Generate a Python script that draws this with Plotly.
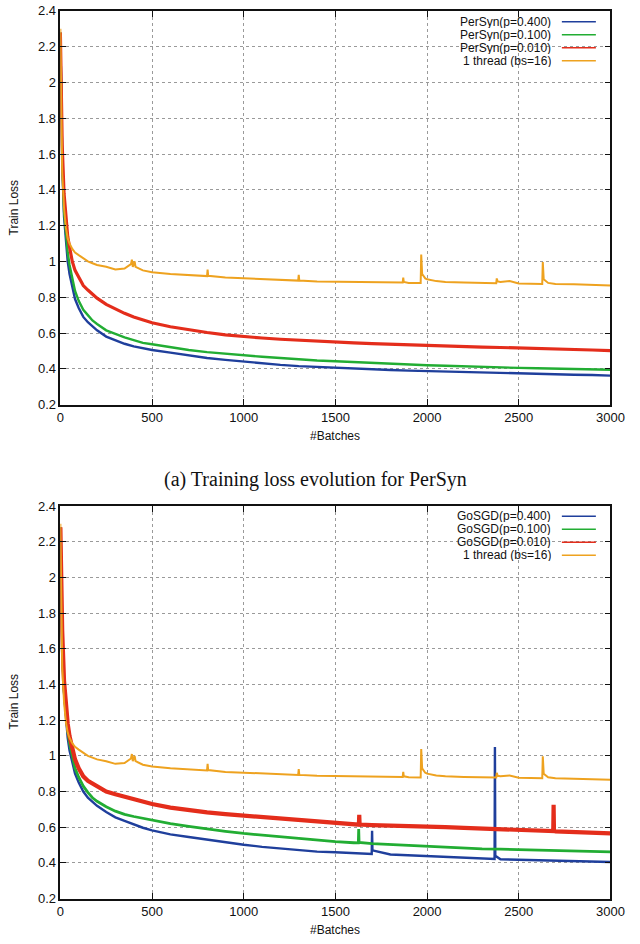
import plotly.graph_objects as go

# ---------------- data ----------------
x_base = [0, 5, 10, 20, 30, 40, 50, 65, 80, 100, 125, 150, 175, 200, 250, 300, 350, 400, 450, 500,
          600, 700, 800, 900, 1000, 1100, 1200, 1300, 1400, 1500, 1600, 1700, 1800, 1900, 2000,
          2100, 2200, 2300, 2400, 2500, 2600, 2700, 2800, 2900, 3000]

persyn_p400 = [2.28, 1.80, 1.55, 1.25, 1.10, 1.00, 0.93, 0.85, 0.79, 0.74, 0.69, 0.66, 0.635, 0.615, 0.58, 0.56,
               0.54, 0.525, 0.515, 0.505, 0.49, 0.475, 0.46, 0.45, 0.44, 0.43, 0.422, 0.415, 0.41, 0.405, 0.40,
               0.397, 0.393, 0.39, 0.387, 0.384, 0.381, 0.378, 0.375, 0.373, 0.371, 0.369, 0.367, 0.365, 0.362]
persyn_p100 = [2.28, 1.80, 1.56, 1.28, 1.15, 1.05, 0.98, 0.90, 0.835, 0.78, 0.73, 0.70, 0.67, 0.65, 0.615, 0.595,
               0.575, 0.56, 0.545, 0.537, 0.52, 0.505, 0.493, 0.483, 0.475, 0.467, 0.46, 0.452, 0.446, 0.442, 0.437,
               0.432, 0.428, 0.424, 0.42, 0.417, 0.413, 0.41, 0.407, 0.405, 0.403, 0.401, 0.399, 0.397, 0.395]
persyn_p010 = [2.28, 1.90, 1.65, 1.38, 1.24, 1.14, 1.08, 1.00, 0.95, 0.91, 0.865, 0.84, 0.815, 0.795, 0.76, 0.735,
               0.71, 0.69, 0.672, 0.657, 0.635, 0.617, 0.603, 0.59, 0.58, 0.572, 0.565, 0.559, 0.554, 0.55, 0.545,
               0.541, 0.537, 0.534, 0.53, 0.527, 0.524, 0.521, 0.519, 0.517, 0.514, 0.511, 0.508, 0.505, 0.502]

thread_x = [0, 5, 10, 20, 30, 40, 50, 65, 80, 100, 125, 150, 175, 200, 250, 300, 350, 385, 390, 395, 405, 410,
            450, 500, 600, 700, 800, 803, 806, 900, 1000, 1100, 1200, 1297, 1300, 1303, 1400, 1500, 1600, 1700,
            1800, 1867, 1870, 1873, 1900, 1965, 1968, 1973, 1990, 2000, 2050, 2100, 2200, 2300, 2377, 2380,
            2385, 2400, 2450, 2500, 2600, 2628, 2631, 2636, 2660, 2700, 2800, 2900, 3000]
thread_bs16 = [2.30, 1.70, 1.50, 1.30, 1.19, 1.13, 1.10, 1.07, 1.05, 1.035, 1.015, 1.00, 0.99, 0.98, 0.97, 0.955,
               0.96, 0.985, 1.01, 0.97, 1.00, 0.97, 0.95, 0.94, 0.93, 0.922, 0.918, 0.955, 0.92, 0.91, 0.905,
               0.90, 0.897, 0.893, 0.925, 0.893, 0.888, 0.886, 0.884, 0.882, 0.881, 0.882, 0.91, 0.885, 0.88,
               0.879, 1.038, 0.93, 0.905, 0.90, 0.89, 0.885, 0.882, 0.879, 0.878, 0.905, 0.888, 0.885, 0.89,
               0.877, 0.875, 0.874, 0.997, 0.90, 0.88, 0.874, 0.872, 0.869, 0.866]

gosgd_p400_x = [0, 5, 10, 20, 30, 40, 50, 65, 80, 100, 125, 150, 175, 200, 250, 300, 350, 400, 450, 500, 600, 700,
                800, 900, 1000, 1100, 1200, 1300, 1400, 1500, 1600, 1698, 1700, 1702, 1800, 1900, 2000, 2100,
                2200, 2300, 2368, 2370, 2372, 2400, 2500, 2600, 2700, 2800, 2900, 3000]
gosgd_p400 = [2.28, 1.85, 1.60, 1.35, 1.20, 1.10, 1.03, 0.97, 0.90, 0.85, 0.80, 0.765, 0.74, 0.72, 0.685, 0.655,
              0.635, 0.615, 0.597, 0.582, 0.56, 0.545, 0.53, 0.515, 0.502, 0.49, 0.48, 0.47, 0.463, 0.46, 0.455,
              0.45, 0.58, 0.47, 0.447, 0.442, 0.438, 0.434, 0.43, 0.425, 0.422, 1.05, 0.44, 0.42, 0.417, 0.414,
              0.412, 0.41, 0.408, 0.405]

gosgd_p100_x = [0, 5, 10, 20, 30, 40, 50, 65, 80, 100, 125, 150, 175, 200, 250, 300, 350, 400, 450, 500, 600, 700,
                800, 900, 1000, 1100, 1200, 1300, 1400, 1500, 1600, 1625, 1627, 1629, 1700, 1800, 1900, 2000,
                2100, 2200, 2300, 2400, 2500, 2600, 2700, 2800, 2900, 3000]
gosgd_p100 = [2.28, 1.85, 1.60, 1.37, 1.23, 1.14, 1.07, 1.00, 0.93, 0.88, 0.83, 0.795, 0.765, 0.745, 0.715, 0.69,
              0.672, 0.66, 0.65, 0.64, 0.62, 0.605, 0.59, 0.577, 0.565, 0.555, 0.545, 0.535, 0.527, 0.519, 0.513,
              0.512, 0.59, 0.515, 0.508, 0.503, 0.496, 0.49, 0.486, 0.482, 0.479, 0.477, 0.474, 0.471, 0.468,
              0.466, 0.464, 0.462]

gosgd_p010_x = [0, 5, 10, 20, 30, 40, 50, 65, 80, 100, 125, 150, 175, 200, 250, 300, 350, 400, 450, 500, 600, 700,
                800, 900, 1000, 1100, 1200, 1300, 1400, 1500, 1600, 1628, 1630, 1632, 1700, 1800, 1900,
                2000, 2100, 2200, 2300, 2400, 2500, 2600, 2688, 2690, 2692, 2700, 2800, 2900, 3000]
gosgd_p010 = [2.28, 1.90, 1.70, 1.42, 1.28, 1.18, 1.11, 1.04, 0.98, 0.93, 0.885, 0.86, 0.845, 0.83, 0.80, 0.785,
              0.77, 0.755, 0.74, 0.73, 0.71, 0.695, 0.683, 0.673, 0.665, 0.655, 0.645, 0.637, 0.63, 0.62,
              0.615, 0.614, 0.67, 0.615, 0.612, 0.61, 0.607, 0.604, 0.60, 0.596, 0.592, 0.589, 0.585, 0.582,
              0.578, 0.725, 0.58, 0.577, 0.574, 0.57, 0.566]

legend_top = ["PerSyn(p=0.400)", "PerSyn(p=0.100)", "PerSyn(p=0.010)", "1 thread (bs=16)"]
legend_bottom = ["GoSGD(p=0.400)", "GoSGD(p=0.100)", "GoSGD(p=0.010)", "1 thread (bs=16)"]
y_ticks = [0.2, 0.4, 0.6, 0.8, 1.0, 1.2, 1.4, 1.6, 1.8, 2.0, 2.2, 2.4]
y_tick_text = ["0.2", "0.4", "0.6", "0.8", "1", "1.2", "1.4", "1.6", "1.8", "2", "2.2", "2.4"]
x_ticks = [0, 500, 1000, 1500, 2000, 2500, 3000]

# ---------------- style ----------------
BLUE = "#1f3f9c"
GREEN = "#22ad33"
RED = "#e42d1b"
ORANGE = "#eea21f"
colors = [BLUE, GREEN, RED, ORANGE]

W, H = 640, 944
def px_x(p):
    return p / W
def px_y(p):
    return 1 - p / H

fig = go.Figure()

top_series = [(x_base, persyn_p400, 2.4), (x_base, persyn_p100, 2.4), (x_base, persyn_p010, 3.2),
              (thread_x, thread_bs16, 2.0)]
bot_series = [(gosgd_p400_x, gosgd_p400, 2.4), (gosgd_p100_x, gosgd_p100, 2.8), (gosgd_p010_x, gosgd_p010, 4.2),
              (thread_x, thread_bs16, 2.0)]

for (xs, ys, w), c, name in zip(top_series, colors, legend_top):
    fig.add_trace(go.Scatter(x=xs, y=ys, mode="lines", name=name, line=dict(color=c, width=w),
                             xaxis="x", yaxis="y", showlegend=False))
for (xs, ys, w), c, name in zip(bot_series, colors, legend_bottom):
    fig.add_trace(go.Scatter(x=xs, y=ys, mode="lines", name=name, line=dict(color=c, width=w),
                             xaxis="x2", yaxis="y2", showlegend=False))

x_dom = [px_x(58), px_x(624)]
top_dom = [px_y(404), px_y(4)]
bot_dom = [px_y(906), px_y(507)]

tick_font = dict(family="Liberation Sans, Arial, sans-serif", size=13, color="#111")
common_x = dict(range=[0, 3000], tickvals=x_ticks, showgrid=True, gridcolor="#9a9a9a", griddash="dot",
                gridwidth=1, showline=True, linecolor="#111", linewidth=1.5, mirror="ticks",
                ticks="inside", ticklen=6, tickcolor="#111", tickfont=tick_font, zeroline=False,
                domain=x_dom)
common_y = dict(range=[0.2, 2.4], tickvals=y_ticks, ticktext=y_tick_text, showgrid=True, gridcolor="#9a9a9a",
                griddash="dot", gridwidth=1, showline=True, linecolor="#111", linewidth=1.5, mirror="ticks",
                ticks="inside", ticklen=6, tickcolor="#111", tickfont=tick_font, zeroline=False)

fig.update_layout(
    width=W, height=H, margin=dict(l=0, r=0, t=0, b=0),
    paper_bgcolor="white", plot_bgcolor="white",
    xaxis=dict(**common_x, anchor="y"),
    yaxis=dict(**common_y, domain=top_dom, anchor="x"),
    xaxis2=dict(**common_x, anchor="y2"),
    yaxis2=dict(**common_y, domain=bot_dom, anchor="x2"),
)

label_font = dict(family="Liberation Sans, Arial, sans-serif", size=12, color="#111")
ann = []
shapes = []
# axis titles
for yc, xt in [(204, 436), (706, 938)]:
    ann.append(dict(text="Train Loss", x=px_x(10), y=px_y(yc), xref="paper", yref="paper",
                    textangle=-90, showarrow=False, font=label_font, xanchor="center", yanchor="middle"))
    ann.append(dict(text="#Batches", x=px_x(341), y=px_y(xt), xref="paper", yref="paper",
                    showarrow=False, font=label_font, xanchor="center", yanchor="middle"))
# caption
ann.append(dict(text="(a) Training loss evolution for PerSyn", x=px_x(320), y=px_y(480), xref="paper",
                yref="paper", showarrow=False, xanchor="center", yanchor="middle",
                font=dict(family="Liberation Serif, Times New Roman, serif", size=20, color="#111")))
# legends
leg_font = dict(family="Liberation Sans, Arial, sans-serif", size=12, color="#111")
for names, rows in [(legend_top, [15, 28.2, 41.4, 54.6]), (legend_bottom, [517.5, 530.7, 543.9, 557.1])]:
    for name, r, c in zip(names, rows, colors):
        ann.append(dict(text=name, x=px_x(564), y=px_y(r), xref="paper", yref="paper", showarrow=False,
                        xanchor="right", yanchor="middle", font=leg_font, height=12, borderpad=0))
        shapes.append(dict(type="line", xref="paper", yref="paper", x0=px_x(574), x1=px_x(609),
                           y0=px_y(r), y1=px_y(r), line=dict(color=c, width=1.6)))

fig.update_layout(annotations=ann, shapes=shapes)
fig.write_html("out.html")
